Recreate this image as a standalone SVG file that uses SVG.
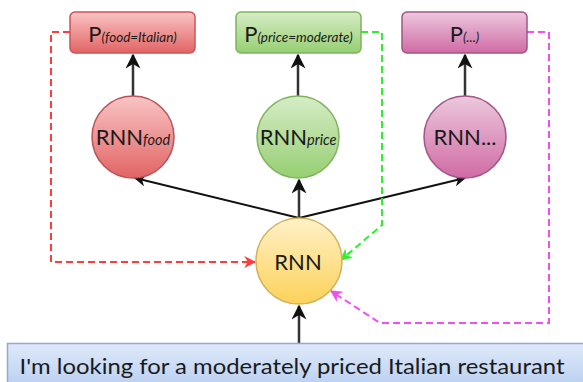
<svg xmlns="http://www.w3.org/2000/svg" width="583" height="382" viewBox="0 0 583 382">
<defs>
<linearGradient id="gRed" x1="0" y1="0" x2="0" y2="1"><stop offset="0" stop-color="#f9c4c4"/><stop offset="1" stop-color="#e26464"/></linearGradient>
<linearGradient id="gGreen" x1="0" y1="0" x2="0" y2="1"><stop offset="0" stop-color="#d6ecc6"/><stop offset="1" stop-color="#96cf72"/></linearGradient>
<linearGradient id="gPink" x1="0" y1="0" x2="0" y2="1"><stop offset="0" stop-color="#ecc8dd"/><stop offset="1" stop-color="#d06ba4"/></linearGradient>
<linearGradient id="gYellow" x1="0" y1="0" x2="0" y2="1"><stop offset="0" stop-color="#fff1c8"/><stop offset="1" stop-color="#fdd25a"/></linearGradient>
<linearGradient id="gBlue" x1="0" y1="0" x2="0" y2="1"><stop offset="0" stop-color="#dfeafa"/><stop offset="1" stop-color="#b3cbef"/></linearGradient>
<marker id="aBlack" viewBox="0 0 10 10" refX="9" refY="5" markerWidth="6" markerHeight="6" orient="auto" markerUnits="strokeWidth"><path d="M0,0 L10,5 L0,10 L3,5 z" fill="#111"/></marker>
<marker id="aRed" viewBox="0 0 10 10" refX="9" refY="5" markerWidth="6" markerHeight="6" orient="auto" markerUnits="strokeWidth"><path d="M0,0 L10,5 L0,10 L3,5 z" fill="#ff3b3b"/></marker>
<marker id="aGreen" viewBox="0 0 10 10" refX="9" refY="5" markerWidth="6" markerHeight="6" orient="auto" markerUnits="strokeWidth"><path d="M0,0 L10,5 L0,10 L3,5 z" fill="#2ef02e"/></marker>
<marker id="aPink" viewBox="0 0 10 10" refX="9" refY="5" markerWidth="6" markerHeight="6" orient="auto" markerUnits="strokeWidth"><path d="M0,0 L10,5 L0,10 L3,5 z" fill="#f050f0"/></marker>
</defs>
<style>
text { font-family: Lato, "Open Sans", "Liberation Sans", sans-serif; fill: #1a1a1a; }
.big { font-size: 22px; }
.sub { font-size: 13.5px; font-style: italic; }
.csub { font-size: 14.5px; font-style: italic; }
.solid { fill: none; stroke: #111; stroke-width: 2; }
.up { fill: none; stroke: #333; stroke-width: 2.5; }
.dash { fill: none; stroke-width: 2; stroke-dasharray: 7 4; }
</style>
<g id="connectors">
<line class="up" x1="133" y1="96" x2="133" y2="55" marker-end="url(#aBlack)"/>
<line class="up" x1="298" y1="96" x2="298" y2="55" marker-end="url(#aBlack)"/>
<line class="up" x1="465" y1="96" x2="465" y2="55" marker-end="url(#aBlack)"/>
<line class="solid" x1="299" y1="218" x2="135" y2="178" marker-end="url(#aBlack)"/>
<line class="up" x1="299" y1="218" x2="299" y2="180" marker-end="url(#aBlack)"/>
<line class="solid" x1="299" y1="218" x2="465" y2="178" marker-end="url(#aBlack)"/>
<line class="up" x1="299" y1="345" x2="299" y2="306" marker-end="url(#aBlack)"/>
<path class="dash" stroke="#ff3b3b" d="M70,32 H51 V262 H255" marker-end="url(#aRed)"/>
<path class="dash" stroke="#2ef02e" d="M361,32 H382 V225 L341,260" marker-end="url(#aGreen)"/>
<path class="dash" stroke="#f050f0" d="M527,32 H549 V323 H380 L331,291" marker-end="url(#aPink)"/>
</g>
<g id="p-food">
<rect x="70" y="12" width="125" height="41" rx="5" fill="url(#gRed)" stroke="#c9555a" stroke-width="1.5"/>
<text x="132.5" y="42" text-anchor="middle"><tspan class="big">P</tspan><tspan class="sub">(food=Italian)</tspan></text>
</g>
<g id="p-price">
<rect x="236" y="12" width="125" height="41" rx="5" fill="url(#gGreen)" stroke="#7fb35e" stroke-width="1.5"/>
<text x="298.5" y="42" text-anchor="middle"><tspan class="big">P</tspan><tspan class="sub">(price=moderate)</tspan></text>
</g>
<g id="p-other">
<rect x="402" y="12" width="125" height="41" rx="5" fill="url(#gPink)" stroke="#a05586" stroke-width="1.5"/>
<text x="464.5" y="42" text-anchor="middle"><tspan class="big">P</tspan><tspan class="sub">(...)</tspan></text>
</g>
<g id="rnn-food">
<circle cx="133" cy="137" r="41" fill="url(#gRed)" stroke="#b8545a" stroke-width="1.5"/>
<text x="133" y="145" text-anchor="middle"><tspan class="big">RNN</tspan><tspan class="csub">food</tspan></text>
</g>
<g id="rnn-price">
<circle cx="298" cy="137" r="41" fill="url(#gGreen)" stroke="#7fb35e" stroke-width="1.5"/>
<text x="298" y="145" text-anchor="middle"><tspan class="big">RNN</tspan><tspan class="csub">price</tspan></text>
</g>
<g id="rnn-other">
<circle cx="465" cy="137" r="41" fill="url(#gPink)" stroke="#a05586" stroke-width="1.5"/>
<text x="465" y="145" text-anchor="middle" class="big">RNN...</text>
</g>
<g id="rnn">
<circle cx="299" cy="261" r="43" fill="url(#gYellow)" stroke="#d2b25a" stroke-width="1.5"/>
<text x="298" y="270" text-anchor="middle" class="big">RNN</text>
</g>
<g id="input">
<rect x="7.5" y="343.5" width="590" height="50" fill="url(#gBlue)" stroke="#8eaad8" stroke-width="1.5"/>
<text x="292" y="374" text-anchor="middle" style="font-size:22px" textLength="545" lengthAdjust="spacingAndGlyphs">I'm looking for a moderately priced Italian restaurant</text>
</g>
</svg>
